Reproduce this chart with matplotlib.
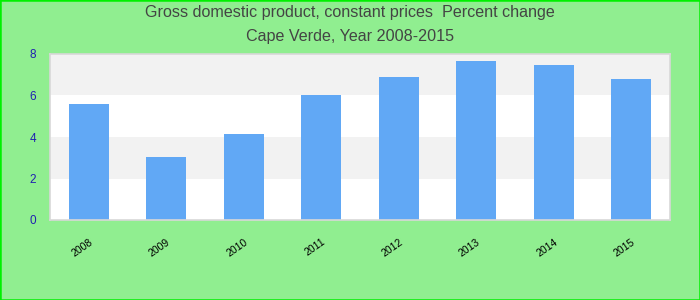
import matplotlib
matplotlib.use("Agg")
import matplotlib.pyplot as plt
from matplotlib.patches import Rectangle

years = ["2008", "2009", "2010", "2011", "2012", "2013", "2014", "2015"]
values = [5.59, 3.04, 4.14, 6.02, 6.89, 7.66, 7.47, 6.80]
yticks = [0, 2, 4, 6, 8]

plt.rcParams['font.family'] = ['Liberation Sans', 'DejaVu Sans']

fig = plt.figure(figsize=(7, 3), dpi=100, facecolor='#90EE90')
fig.patches.append(Rectangle((0, 0), 1, 1, transform=fig.transFigure, fill=False,
                             edgecolor='#00f000', linewidth=1.8))
ax = fig.add_axes([50/700, 80/300, 620/700, 166/300])
ax.set_facecolor('white')

for lo in (2, 6):
    ax.axhspan(lo, lo + 2, color='#f2f2f2', zorder=0, lw=0)

x = list(range(len(years)))
ax.bar(x, values, width=0.52, color='#61a8f5', zorder=2)
ax.set_xlim(-0.5, len(years) - 0.5)
ax.set_ylim(0, 8)
ax.set_yticks(yticks)
ax.set_yticklabels([str(t) for t in yticks], color='#2020b0', fontsize=8.5)
ax.set_xticks(x)
ax.set_xticklabels(years, rotation=35, ha='right', rotation_mode='anchor', fontsize=7.5, color='black')
ax.tick_params(axis='both', length=0)
ax.tick_params(axis='y', pad=10)
ax.tick_params(axis='x', pad=12)
for s in ax.spines.values():
    s.set_color('#d8d8d8')
    s.set_linewidth(1.2)

fig.text(0.5, 1 - 13/300, "Gross domestic product, constant prices  Percent change",
         ha='center', va='center', fontsize=11.6, color='#444444')
fig.text(0.5, 1 - 36/300, "Cape Verde, Year 2008-2015",
         ha='center', va='center', fontsize=11.6, color='#444444')

fig.savefig("out.png", dpi=100, facecolor=fig.get_facecolor())
